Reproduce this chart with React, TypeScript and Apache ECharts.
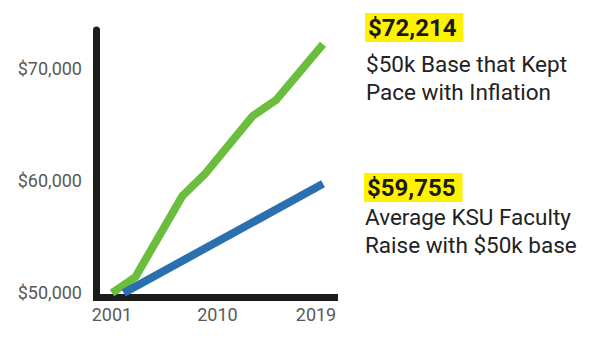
import React, { useEffect, useRef } from "react";
import * as echarts from "echarts";

const inflationYears = [2001, 2003, 2007, 2009, 2013, 2015, 2019];
const inflationValues = [50000, 51430, 58660, 60710, 65800, 67230, 72214];
const raiseYears = [2002, 2019];
const raiseValues = [50000, 59755];
const yTickValues = [50000, 60000, 70000];
const xTickValues = [2001, 2010, 2019];
const inflationLabel = ["$50k Base that Kept", "Pace with Inflation"];
const raiseLabel = ["Average KSU Faculty", "Raise with $50k base"];

const fmtMoney = (v: number) => "$" + v.toLocaleString("en-US");

export default function App() {
  const ref = useRef<HTMLDivElement>(null);
  useEffect(() => {
    if (!ref.current) return;
    const chart = echarts.init(ref.current, null, { renderer: "svg" });
    const inflData = inflationYears.map((y, i) => [y, inflationValues[i]]);
    const raiseData = raiseYears.map((y, i) => [y, raiseValues[i]]);
    const font = "Roboto, 'Noto Sans', sans-serif";
    const textColor = "#222222";
    const tickColor = "#595959";
    chart.setOption({
      animation: false,
      grid: { left: 96.5, top: 30, right: 265.5, bottom: 42.5 },
      xAxis: {
        type: "value",
        min: 1999.68,
        max: 2019.98,
        splitLine: { show: false },
        axisTick: { show: false },
        axisLine: { show: true, lineStyle: { color: "#1c1c1c", width: 7, cap: "square" } },
        axisLabel: {
          customValues: xTickValues,
          margin: 8,
          color: tickColor,
          fontSize: 18,
          fontFamily: font,
          formatter: (v: number) => (v === 2019 ? "{r|" + v + "}" : String(v)),
          rich: { r: { padding: [0, 14, 0, 0], color: tickColor, fontSize: 18, fontFamily: font } },
        },
      },
      yAxis: {
        type: "value",
        min: 49598,
        max: 73482,
        splitLine: { show: false },
        axisTick: { show: false },
        axisLine: { show: true, lineStyle: { color: "#1c1c1c", width: 7 } },
        axisLabel: {
          customValues: yTickValues,
          margin: 14.5,
          color: tickColor,
          fontSize: 18,
          fontFamily: font,
          formatter: (v: number) => fmtMoney(v),
        },
      },
      series: [
        {
          type: "line",
          data: inflData,
          showSymbol: false,
          symbol: "none",
          lineStyle: { color: "#6bbd3e", width: 8 },
          z: 2,
        },
        {
          type: "line",
          data: raiseData,
          showSymbol: false,
          symbol: "none",
          lineStyle: { color: "#2a6fae", width: 8 },
          z: 3,
        },
      ],
      graphic: [
        {
          type: "text",
          x: 365,
          y: 27.5,
          style: {
            text: fmtMoney(inflationValues[inflationValues.length - 1]),
            font: "bold 24px " + font,
            fill: "#1a1a1a",
            backgroundColor: "#fff200",
            padding: [3, 7, 2, 3],
            verticalAlign: "middle",
            align: "left",
          },
        },
        ...inflationLabel.map((t, i) => ({
          type: "text",
          x: 366,
          y: 64 + i * 27.5,
          style: { text: t, font: "22.5px " + font, fill: textColor, verticalAlign: "middle", align: "left" },
        })),
        {
          type: "text",
          x: 364,
          y: 187.5,
          style: {
            text: fmtMoney(raiseValues[raiseValues.length - 1]),
            font: "bold 24px " + font,
            fill: "#1a1a1a",
            backgroundColor: "#fff200",
            padding: [3, 7, 2, 3],
            verticalAlign: "middle",
            align: "left",
          },
        },
        ...raiseLabel.map((t, i) => ({
          type: "text",
          x: 365,
          y: 217 + i * 27.5,
          style: { text: t, font: "22.5px " + font, fill: textColor, verticalAlign: "middle", align: "left" },
        })),
      ],
    });
    return () => chart.dispose();
  }, []);
  return <div ref={ref} style={{ width: 600, height: 340, position: "absolute", left: 0, top: 0 }} />;
}
